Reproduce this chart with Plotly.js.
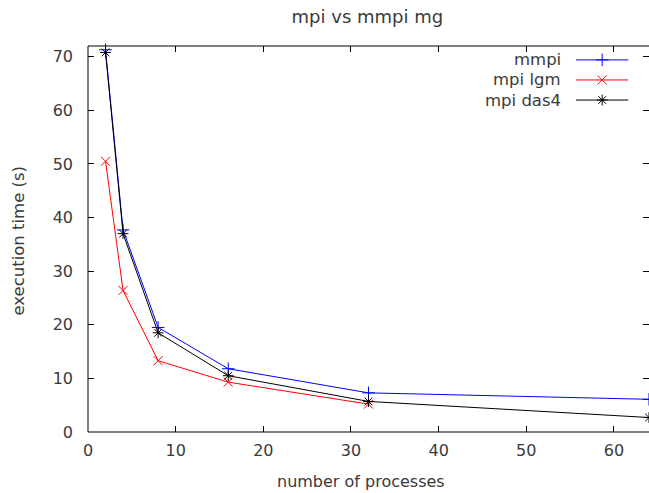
<!DOCTYPE html>
<html>
<head>
<meta charset="utf-8">
<script src="https://cdn.plot.ly/plotly-3.0.1.min.js"></script>
<style>html,body{margin:0;padding:0;background:#fff;}#chart{width:649px;height:493px;}</style>
</head>
<body>
<div id="chart"></div>
<script>
const processes = [2, 4, 8, 16, 32, 64];
const processesLgm = [2, 4, 8, 16, 32];
const mmpi = [71.3, 37.7, 19.5, 11.8, 7.3, 6.1];
const mpiLgm = [50.5, 26.4, 13.3, 9.3, 5.2];
const mpiDas4 = [70.8, 37.0, 18.5, 10.5, 5.7, 2.7];
const seriesNames = ["mmpi", "mpi lgm", "mpi das4"];
const seriesColors = ["#0000ff", "#ff0000", "#000000"];
const seriesSymbols = ["cross-thin-open", "x-thin-open", "asterisk-open"];
const xTicks = [0, 10, 20, 30, 40, 50, 60];
const yTicks = [0, 10, 20, 30, 40, 50, 60, 70];

const FAM = "DejaVu Sans, sans-serif";
const TXT = "#3a3a3a";
const font = {family: FAM, size: 16, color: TXT};

const xs = [processes, processesLgm, processes];
const ys = [mmpi, mpiLgm, mpiDas4];
const traces = ys.map((y, i) => ({
  type: "scatter", mode: "lines+markers", x: xs[i], y: y, name: seriesNames[i],
  line: {color: seriesColors[i], width: 1},
  marker: {symbol: seriesSymbols[i], size: 9, color: seriesColors[i], line: {color: seriesColors[i], width: 1}},
  showlegend: false, cliponaxis: false
}));

// legend drawn gnuplot-style: right-aligned label, then sample line with marker
const legY = [0.964, 0.912, 0.860];
const shapes = [
  {type: "line", xref: "paper", yref: "paper", x0: 0, x1: 0, y0: 0, y1: 1, line: {color: "#000", width: 1}},
  {type: "line", xref: "paper", yref: "paper", x0: 0, x1: 1, y0: 0, y1: 0, line: {color: "#000", width: 1}},
  {type: "line", xref: "paper", yref: "paper", x0: 0, x1: 1, y0: 1, y1: 1, line: {color: "#000", width: 1}}
];
const annotations = [
  {xref: "paper", yref: "paper", x: 0.4875, y: -0.127, xanchor: "center", yanchor: "middle", text: "number of processes", showarrow: false, borderpad: 0, font: {family: FAM, size: 16, color: TXT}},
  {xref: "paper", yref: "paper", x: -0.124, y: 0.497, xanchor: "center", yanchor: "middle", textangle: -90, text: "execution time (s)", showarrow: false, font: {family: FAM, size: 16.5, color: TXT}}
];
seriesNames.forEach((n, i) => {
  shapes.push({type: "line", xref: "paper", yref: "paper", x0: 0.870, x1: 0.963, y0: legY[i], y1: legY[i], line: {color: seriesColors[i], width: 1}});
  annotations.push({xref: "paper", yref: "paper", x: 0.847, y: legY[i], xanchor: "right", yanchor: "middle", text: n, showarrow: false, font: {family: FAM, size: 16.5, color: TXT}});
});
traces.push({
  type: "scatter", mode: "markers", xaxis: "x2", yaxis: "y2", x: [0.9165, 0.9165, 0.9165], y: legY,
  marker: {symbol: seriesSymbols, size: 9, color: seriesColors, line: {color: seriesColors, width: 1}},
  showlegend: false, hoverinfo: "skip", cliponaxis: false
});

const layout = {
  width: 649, height: 493,
  margin: {l: 88, r: 0, t: 46, b: 61},
  paper_bgcolor: "#fff", plot_bgcolor: "#fff",
  font: font,
  showlegend: false,
  title: {text: "mpi vs mmpi mg", xref: "paper", x: 0.498, xanchor: "center", yref: "container", y: 0.967, yanchor: "middle", font: {family: FAM, size: 18, color: TXT}},
  xaxis: {
    range: [0, 64], tickvals: xTicks, ticktext: xTicks.map(String),
    ticks: "inside", ticklen: 6, tickcolor: "#000", mirror: "ticks", showline: false,
    showgrid: false, zeroline: false, ticklabelstandoff: 7,
    tickfont: {family: FAM, size: 16, color: TXT}
  },
  yaxis: {
    range: [0, 72], tickvals: yTicks, ticktext: yTicks.map(String),
    ticks: "inside", ticklen: 6, tickcolor: "#000", mirror: "ticks", showline: false,
    showgrid: false, zeroline: false, ticklabelstandoff: 14,
    tickfont: {family: FAM, size: 16, color: TXT}
  },
  xaxis2: {overlaying: "x", range: [0, 1], visible: false, anchor: "y2"},
  yaxis2: {overlaying: "y", range: [0, 1], visible: false, anchor: "x2"},
  shapes: shapes,
  annotations: annotations
};

Plotly.newPlot("chart", traces, layout, {staticPlot: true, displayModeBar: false});
</script>
</body>
</html>
